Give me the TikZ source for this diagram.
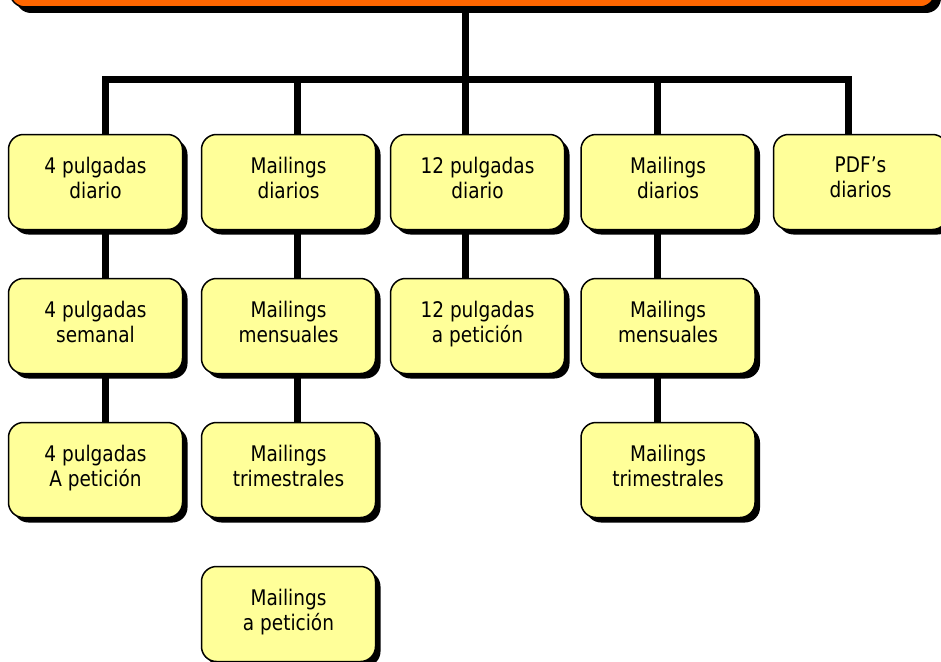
\documentclass[tikz,border=0pt]{standalone}
\usepackage{fontspec}
\setmainfont{DejaVu Sans}[FakeStretch=0.86]
\usetikzlibrary{shadows}
\pgfdeclarelayer{bg}
\pgfsetlayers{bg,main}
\definecolor{boxyellow}{HTML}{FFFF99}
\definecolor{barorange}{HTML}{FF6600}
\newcommand\mybox[3]{%
  \node[box] (#1) at (#2) {};
  \node[txt] (#1t) at ([yshift=25.3pt]#1.center) {#3};}
\begin{document}
\begin{tikzpicture}[x=1pt,y=-1pt,
  box/.style={draw=black, line width=1.5pt, fill=boxyellow, rounded corners=15pt,
    minimum width=174pt, minimum height=95pt, inner sep=0pt, outer sep=0pt,
    drop shadow={shadow xshift=5pt, shadow yshift=-5pt, fill=black, opacity=1}},
  bar/.style={draw=black, line width=1.5pt, fill=barorange, rounded corners=15pt,
    minimum width=925pt, minimum height=47pt, inner sep=0pt, outer sep=0pt,
    drop shadow={shadow xshift=6pt, shadow yshift=-6pt, fill=black, opacity=1}},
  txt/.style={align=center, inner sep=0pt, anchor=north, text=black,
    font=\fontsize{21.5}{25}\selectfont},
  conn/.style={line width=7pt, draw=black, line join=miter}]
\useasboundingbox (0,0) rectangle (941,661);
\clip (0,0) rectangle (941,661);

\node[bar] (top) at (472.5,-16.5) {};

\coordinate (c1) at (105,79.5);
\coordinate (c2) at (297,79.5);
\coordinate (c3) at (465,79.5);
\coordinate (c4) at (657,79.5);
\coordinate (c5) at (848,79.5);

\mybox{b11}{95.5,182}{4 pulgadas\\diario}
\mybox{b12}{95.5,326}{4 pulgadas\\semanal}
\mybox{b13}{95.5,470}{4 pulgadas\\A petición}
\mybox{b21}{288.5,182}{Mailings\\diarios}
\mybox{b22}{288.5,326}{Mailings\\mensuales}
\mybox{b23}{288.5,470}{Mailings\\trimestrales}
\mybox{b24}{288.5,614}{Mailings\\a petición}
\mybox{b31}{477.5,182}{12 pulgadas\\diario}
\mybox{b32}{477.5,326}{12 pulgadas\\a petición}
\mybox{b41}{668,182}{Mailings\\diarios}
\mybox{b42}{668,326}{Mailings\\mensuales}
\mybox{b43}{668,470}{Mailings\\trimestrales}
\mybox{b51}{860.5,182}{PDF’s\\diarios}

\begin{pgfonlayer}{bg}
  \draw[conn] (top.south -| c3) -- (c3);
  \draw[conn] (c1 |- b11.north) -- (c1) -- (c5) -- (c5 |- b51.north);
  \draw[conn] (c2) -- (c2 |- b21.north);
  \draw[conn] (c3) -- (c3 |- b31.north);
  \draw[conn] (c4) -- (c4 |- b41.north);
  \draw[conn] (c1 |- b11.south) -- (c1 |- b12.north);
  \draw[conn] (c1 |- b12.south) -- (c1 |- b13.north);
  \draw[conn] (c2 |- b21.south) -- (c2 |- b22.north);
  \draw[conn] (c2 |- b22.south) -- (c2 |- b23.north);
  \draw[conn] (c3 |- b31.south) -- (c3 |- b32.north);
  \draw[conn] (c4 |- b41.south) -- (c4 |- b42.north);
  \draw[conn] (c4 |- b42.south) -- (c4 |- b43.north);
\end{pgfonlayer}
\end{tikzpicture}
\end{document}
